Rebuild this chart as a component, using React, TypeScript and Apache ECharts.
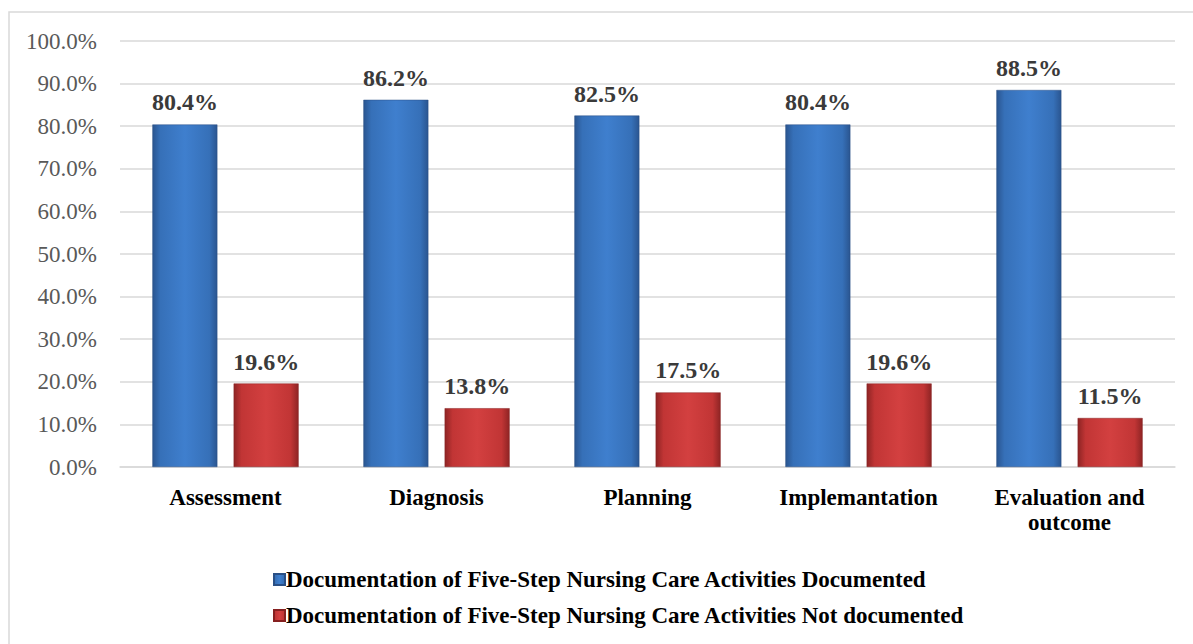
import React, { useEffect, useRef } from "react";
import * as echarts from "echarts";

const categories = ["Assessment", "Diagnosis", "Planning", "Implemantation", "Evaluation and\noutcome"];
const documented = [80.4, 86.2, 82.5, 80.4, 88.5];
const notDocumented = [19.6, 13.8, 17.5, 19.6, 11.5];
const seriesNames = [
  "Documentation of Five-Step Nursing Care Activities Documented",
  "Documentation of Five-Step Nursing Care Activities Not documented",
];

const FONT = "Liberation Serif";

function grad(edge: string, mid: string, light: string) {
  return new echarts.graphic.LinearGradient(0, 0, 1, 0, [
    { offset: 0, color: edge },
    { offset: 0.12, color: mid },
    { offset: 0.5, color: light },
    { offset: 0.88, color: mid },
    { offset: 1, color: edge },
  ]);
}

export default function App() {
  const ref = useRef<HTMLDivElement>(null);
  useEffect(() => {
    document.body.style.margin = "0";
    const chart = echarts.init(ref.current!, null, { renderer: "svg" });
    const blue = grad("#2a5590", "#3670b8", "#3f7fce");
    const red = grad("#8e2424", "#c13535", "#d34040");
    const label = {
      show: true,
      position: "top",
      distance: 10,
      fontFamily: FONT,
      fontWeight: "bold",
      fontSize: 24,
      color: "#3a3a3a",
      formatter: (p: any) => p.value.toFixed(1) + "%",
    };
    chart.setOption({
      animation: false,
      backgroundColor: "#ffffff",
      textStyle: { fontFamily: FONT },
      graphic: [
        {
          type: "rect",
          shape: { x: 9, y: 12, width: 1200, height: 640 },
          style: { fill: "none", stroke: "#d9d9d9", lineWidth: 1.5 },
          silent: true,
        },
      ],
      grid: { left: 120, right: 18, top: 41, bottom: 177 },
      xAxis: {
        type: "category",
        data: categories,
        axisLine: { show: true, lineStyle: { color: "#d9d9d9", width: 1.5 } },
        axisTick: { show: false },
        axisLabel: {
          fontFamily: FONT,
          fontWeight: "bold",
          fontSize: 23,
          color: "#000000",
          margin: 18,
          lineHeight: 25,
        },
      },
      yAxis: {
        type: "value",
        min: 0,
        max: 100,
        interval: 10,
        axisLine: { show: false },
        axisTick: { show: false },
        splitLine: { lineStyle: { color: "#d9d9d9", width: 1.5 } },
        axisLabel: {
          fontFamily: FONT,
          fontSize: 23,
          color: "#595959",
          margin: 23,
          formatter: (v: number) => v.toFixed(1) + "%",
        },
      },
      legend: {
        orient: "vertical",
        left: 268,
        top: 563,
        itemGap: 13,
        itemWidth: 11,
        itemHeight: 11,
        icon: "rect",
        textStyle: {
          fontFamily: FONT,
          fontWeight: "bold",
          fontSize: 23,
          color: "#000000",
          padding: [0, 0, 0, -4],
        },
        data: seriesNames,
      },
      series: [
        {
          name: seriesNames[0],
          type: "bar",
          data: documented,
          barWidth: 65,
          barGap: "25%",
          itemStyle: { color: blue, borderColor: "#2a4f85", borderWidth: 0.5 },
          label,
        },
        {
          name: seriesNames[1],
          type: "bar",
          data: notDocumented,
          barWidth: 65,
          itemStyle: { color: red, borderColor: "#862020", borderWidth: 0.5 },
          label,
        },
      ],
    });
    return () => chart.dispose();
  }, []);
  return <div ref={ref} style={{ width: 1193, height: 644 }} />;
}
